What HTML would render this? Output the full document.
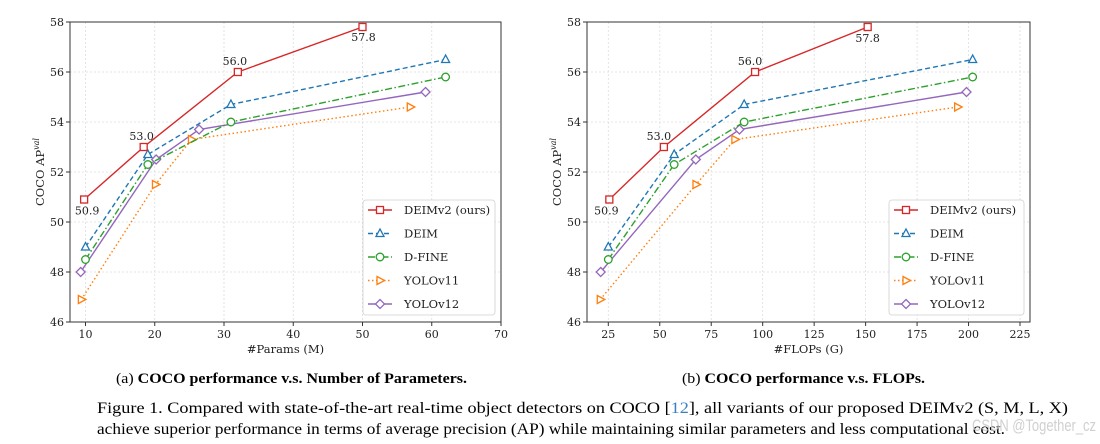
<!DOCTYPE html>
<html><head><meta charset="utf-8"><style>
html,body{margin:0;padding:0;background:#fff;width:1100px;height:444px;overflow:hidden}
svg{display:block}
</style></head><body>
<svg id="fig" width="1100" height="444" xmlns="http://www.w3.org/2000/svg">
<g id="chartA"></g>
<g id="chartB"></g>
<text x="116" y="383" font-family="Liberation Serif, serif" font-size="15" textLength="351" lengthAdjust="spacingAndGlyphs">(a) <tspan font-weight="bold">COCO performance v.s. Number of Parameters.</tspan></text>
<text x="682" y="383" font-family="Liberation Serif, serif" font-size="15" textLength="243" lengthAdjust="spacingAndGlyphs">(b) <tspan font-weight="bold">COCO performance v.s. FLOPs.</tspan></text>
<text x="97" y="413" font-family="Liberation Serif, serif" font-size="16" textLength="971" lengthAdjust="spacingAndGlyphs">Figure 1.  Compared with state-of-the-art real-time object detectors on COCO [<tspan fill="#3a7fc0">12</tspan>], all variants of our proposed DEIMv2 (S, M, L, X)</text>
<text x="97" y="434" font-family="Liberation Serif, serif" font-size="16" textLength="908" lengthAdjust="spacingAndGlyphs">achieve superior performance in terms of average precision (AP) while maintaining similar parameters and less computational cost.</text>
<text x="972" y="431" font-family="Liberation Sans, sans-serif" font-size="17" fill="#c8c8c8" opacity="0.85" textLength="124" lengthAdjust="spacingAndGlyphs">CSDN @Together_cz</text>
</svg>
<script>
const seriesNames = ["DEIMv2 (ours)","DEIM","D-FINE","YOLOv11","YOLOv12"];
const yTicks = [46,48,50,52,54,56,58];
const paramsX = [[9.8,18.4,32,50],[10,19,31,62],[10,19,31,62],[9.4,20.1,25.3,56.9],[9.3,20.2,26.4,59.1]];
const flopsX = [[25.5,52,96.3,151],[25,57,91,202],[25,57,91,202],[21.1,67.6,86.5,194.7],[21.3,67.5,88.7,199]];
const apY = [[50.9,53.0,56.0,57.8],[49.0,52.7,54.7,56.5],[48.5,52.3,54.0,55.8],[46.9,51.5,53.3,54.6],[48.0,52.5,53.7,55.2]];
const labelVals = [50.9,53.0,56.0,57.8];
const paramsTicks = [10,20,30,40,50,60,70];
const flopsTicks = [25,50,75,100,125,150,175,200,225];

const colors=["#d62728","#1f77b4","#2ca02c","#ff7f0e","#9467bd"];
const dashes=["","5,3","7,2.5,1.5,2.5","1.5,2.5",""];
const markers=["square","triangle","circle","tri-right","diamond"];
const NS="http://www.w3.org/2000/svg";
function el(parent,tag,attrs){const e=document.createElementNS(NS,tag);for(const k in attrs)e.setAttribute(k,attrs[k]);parent.appendChild(e);return e;}
function marker(g,type,x,y,c){
  let m;
  if(type==="square") m=el(g,"rect",{x:x-3.5,y:y-3.5,width:7,height:7});
  else if(type==="circle") m=el(g,"circle",{cx:x,cy:y,r:3.8});
  else if(type==="triangle") m=el(g,"polygon",{points:`${x},${y-4.5} ${x-4},${y+3} ${x+4},${y+3}`});
  else if(type==="tri-right") m=el(g,"polygon",{points:`${x+4.5},${y} ${x-3},${y-4} ${x-3},${y+4}`});
  else m=el(g,"polygon",{points:`${x},${y-4.5} ${x+4.5},${y} ${x},${y+4.5} ${x-4.5},${y}`});
  m.setAttribute("fill","#fff");m.setAttribute("stroke",c);m.setAttribute("stroke-width","1.3");
  
  
  return m;
}
function chart(g,cfg){
  const {L,R,T,B,x0,x0px,x1,x1px,xs,xt,xlabel,labelOffsets}=cfg;
  const sx=v=>x0px+(v-x0)*(x1px-x0px)/(x1-x0);
  const sy=v=>B-(v-46)*(B-T)/12;
  const F="DejaVu Serif, Liberation Serif, serif";
  xt.forEach(t=>{const x=sx(t);
    el(g,"line",{x1:x,x2:x,y1:T,y2:B,stroke:"#ddd","stroke-dasharray":"2,2","stroke-width":0.8});
    el(g,"line",{x1:x,x2:x,y1:B,y2:B+4,stroke:"#333"});
    const tx=el(g,"text",{x:x,y:B+16,"text-anchor":"middle","font-family":F,"font-size":11,fill:"#222"});tx.textContent=t;
    
    
  });
  yTicks.forEach(t=>{const y=sy(t);
    el(g,"line",{x1:L,x2:R,y1:y,y2:y,stroke:"#ddd","stroke-dasharray":"2,2","stroke-width":0.8});
    el(g,"line",{x1:L-4,x2:L,y1:y,y2:y,stroke:"#333"});
    const tx=el(g,"text",{x:L-6,y:y+4,"text-anchor":"end","font-family":F,"font-size":11,fill:"#222"});tx.textContent=t;
    
    
  });
  const frame=el(g,"rect",{x:L,y:T,width:R-L,height:B-T,fill:"none",stroke:"#333","stroke-width":1});
  
  
  const xl=el(g,"text",{x:(L+R)/2,y:B+31,"text-anchor":"middle","font-family":F,"font-size":11.5,fill:"#222"});xl.textContent=xlabel;
  
  
  const yl=el(g,"text",{transform:`translate(${L-26},${(T+B)/2}) rotate(-90)`,"text-anchor":"middle","font-family":F,"font-size":11.5,fill:"#222"});
  yl.innerHTML='COCO AP<tspan dy="-5" font-size="8" font-style="italic">val</tspan>';
  
  
  for(let s=4;s>=0;s--){
    const sg=el(g,"g",{});
    
    
    const pts=xs[s].map((v,i)=>sx(v)+","+sy(apY[s][i])).join(" ");
    const pl=el(sg,"polyline",{points:pts,fill:"none",stroke:colors[s],"stroke-width":1.4});
    if(dashes[s])pl.setAttribute("stroke-dasharray",dashes[s]);
    xs[s].forEach((v,i)=>marker(sg,markers[s],sx(v),sy(apY[s][i]),colors[s]));
  }
  labelVals.forEach((v,i)=>{
    const t=el(g,"text",{x:sx(xs[0][i])+labelOffsets[i][0],y:sy(v)+labelOffsets[i][1],"text-anchor":"middle","font-family":F,"font-size":11,fill:"#222"});
    t.textContent=v.toFixed(1);
    
    
  });
  const lg=el(g,"g",{});
  
  
  const lx=cfg.legX, ly=200;
  el(lg,"rect",{x:lx,y:ly,width:cfg.legW,height:115,rx:3,fill:"#fff",stroke:"#ccc","stroke-width":0.8,opacity:0.9});
  seriesNames.forEach((n,i)=>{
    const yy=ly+10+i*23.5;
    const ln=el(lg,"line",{x1:lx+5,x2:lx+29,y1:yy,y2:yy,stroke:colors[i],"stroke-width":1.4});
    if(dashes[i])ln.setAttribute("stroke-dasharray",dashes[i]);
    marker(lg,markers[i],lx+17,yy,colors[i]);
    const t=el(lg,"text",{x:lx+41,y:yy+4,"font-family":F,"font-size":11.5,fill:"#222"});t.textContent=n;
    
    
  });
}
chart(document.getElementById("chartA"),{L:70,R:501,T:22,B:322,x0:10,x0px:85.5,x1:70,x1px:501,xs:paramsX,xt:paramsTicks,xlabel:"#Params (M)",legX:363,legW:132,
  labelOffsets:[[3,15],[-2,-7],[-3,-7],[1,14]]});
chart(document.getElementById("chartB"),{L:587,R:1030,T:22,B:322,x0:25,x0px:608.3,x1:225,x1px:1020,xs:flopsX,xt:flopsTicks,xlabel:"#FLOPs (G)",legX:889,legW:135,
  labelOffsets:[[-3,15],[-5,-7],[-5,-7],[0,15]]});
</script>
</body></html>
